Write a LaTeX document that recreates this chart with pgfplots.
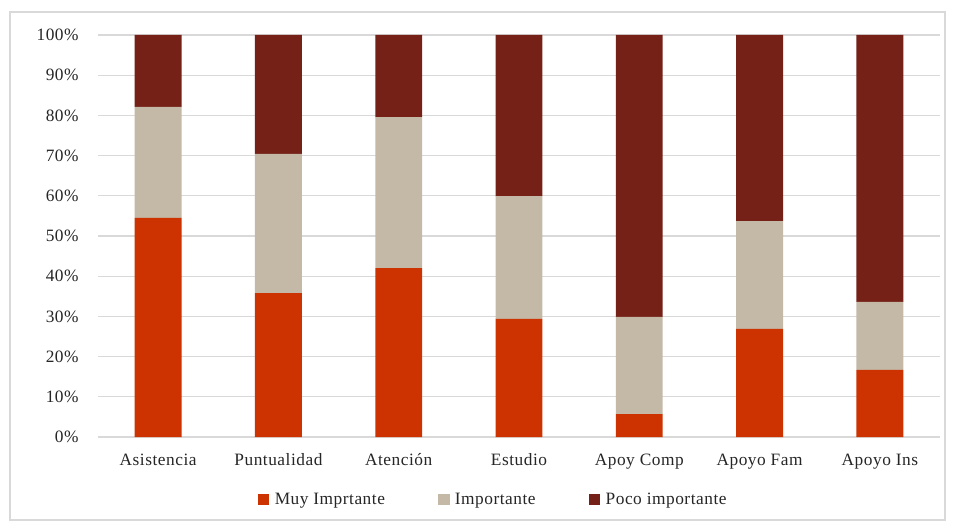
\documentclass[border=0pt]{standalone}
\usepackage{pgfplots}
\pgfplotsset{compat=1.18}
\usepackage{fontspec}
\setmainfont{Liberation Serif}[LetterSpace=3]
\definecolor{muy}{RGB}{204,51,0}
\definecolor{imp}{RGB}{196,184,166}
\definecolor{poco}{RGB}{117,33,23}
\definecolor{gridc}{RGB}{217,217,217}
\begin{document}
\begin{tikzpicture}
\path[use as bounding box] (0pt,0pt) rectangle (715.5pt,396.75pt);
\draw[gridc, line width=0.8pt] (7.5pt,6.75pt) rectangle (708.75pt,387.75pt);
\begin{axis}[
  at={(73.5pt,69pt)}, anchor=south west,
  scale only axis, width=631.5pt, height=301.5pt,
  ybar stacked, bar width=0.39,
  xmin=-0.5, xmax=6.5, ymin=0, ymax=100,
  xtick=data,
  xticklabels={Asistencia,Puntualidad,Atención,Estudio,Apoy Comp,Apoyo Fam,Apoyo Ins},
  ytick={0,10,...,100},
  yticklabel={\pgfmathprintnumber{\tick}\%},
  /pgf/number format/assume math mode=true,
  major tick length=0pt,
  ymajorgrids, grid style={gridc, line width=0.8pt},
  axis x line*=bottom, axis y line*=left,
  x axis line style={gridc, line width=0.8pt},
  y axis line style={draw=none},
  tick label style={font=\fontsize{13}{15}\selectfont, text=black!85},
  xticklabel style={yshift=-9pt, text height=9pt, text depth=3pt},
  yticklabel style={xshift=-11pt},
  legend columns=3,
  legend style={at={(0.4715,-0.157)}, anchor=center, draw=none,
    font=\fontsize{13}{15}\selectfont, text=black!85,
    nodes={inner xsep=4pt},
    /tikz/every even column/.append style={column sep=36pt}},
  legend image code/.code={\fill[#1] (0pt,-4pt) rectangle (8.5pt,4.5pt);},
]
\addplot[fill=muy, draw=none] coordinates {(0,54.5) (1,35.8) (2,42.0) (3,29.4) (4,5.7) (5,26.9) (6,16.7)};
\addplot[fill=imp, draw=none] coordinates {(0,27.6) (1,34.6) (2,37.6) (3,30.5) (4,24.2) (5,26.8) (6,16.9)};
\addplot[fill=poco, draw=none] coordinates {(0,17.9) (1,29.6) (2,20.4) (3,40.1) (4,70.1) (5,46.3) (6,66.4)};
\legend{Muy Imprtante,Importante,Poco importante}
\end{axis}
\end{tikzpicture}
\end{document}
